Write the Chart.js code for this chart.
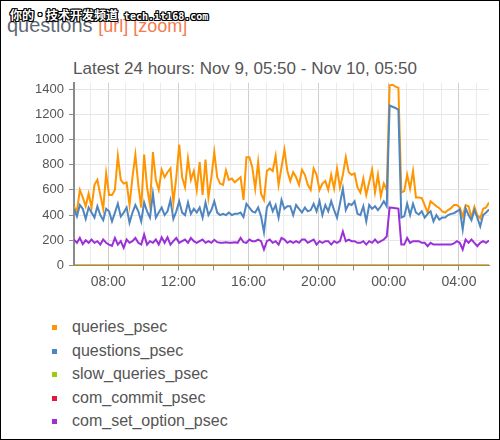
<!DOCTYPE html>
<html><head><meta charset="utf-8">
<script src="https://cdn.jsdelivr.net/npm/chart.js@4/dist/chart.umd.min.js"></script>
<style>
html,body{margin:0;padding:0;background:#fff;}
#frame{position:relative;width:500px;height:440px;overflow:hidden;font-family:"Liberation Sans",Arial,Helvetica,sans-serif;background:#fff;}
#border{position:absolute;left:0;top:0;width:500px;height:440px;box-sizing:border-box;border:1px solid #000;pointer-events:none;z-index:5;}
#wm{position:absolute;left:10px;top:6px;z-index:4;color:#fff;font-weight:bold;white-space:nowrap;
 text-shadow:1px 0 #000,-1px 0 #000,0 1px #000,0 -1px #000,1px 1px #000,-1px -1px #000,1px -1px #000,-1px 1px #000;}
#wm .cn{font-family:"Noto Sans CJK SC";font-size:12px;}
#wm .en{font-family:"DejaVu Sans Mono";font-size:10px;margin-left:6px;}
#title{position:absolute;left:7px;top:15px;line-height:20px;font-size:20px;color:#5f6873;white-space:nowrap;z-index:2;}
#title .links{font-size:18px;color:#f47c50;}
#sub{position:absolute;left:73px;top:60px;font-size:17px;line-height:17px;color:#555;white-space:nowrap;}
#cwrap{position:absolute;left:0;top:70px;width:500px;height:226px;}
#legend{position:absolute;left:52px;top:317px;margin:0;padding:0;list-style:none;}
#legend li{height:23.6px;line-height:20px;font-size:16px;color:#555;white-space:nowrap;position:relative;padding-left:20px;}
#legend li span.sq{position:absolute;left:0;top:8px;width:5px;height:5px;}
</style>
</head><body>
<div id="frame">
  <div id="wm"><span class="cn">你的·技术开发频道</span><span class="en">tech.it168.com</span></div>
  <div id="title">questions <span class="links">[url] [zoom]</span></div>
  <div id="sub">Latest 24 hours: Nov 9, 05:50 - Nov 10, 05:50</div>
  <div id="cwrap"><canvas id="c"></canvas></div>
  <ul id="legend"></ul>
  <div id="border"></div>
</div>
<script>
// time axis: first sample hour (decimal hours, Nov 9) and sampling step (10 minutes)
const startHour = 6.05;
const stepHours = 1/6;

const seriesNames = ["queries_psec","questions_psec","slow_queries_psec","com_commit_psec","com_set_option_psec"];
const seriesColors = ["#ff9500","#4f86c0","#99cc11","#e8173a","#9b30d9"];

const queries = [467,430,600,540,470,570,460,640,680,560,450,730,
 560,560,600,870,680,650,660,480,700,880,640,460,
 880,620,480,900,680,600,760,700,740,770,500,700,
 960,700,620,850,680,750,600,820,560,840,540,700,
 900,700,650,640,755,680,690,660,680,700,520,860,
 860,780,610,820,570,520,750,770,750,870,640,780,
 920,750,670,740,700,640,760,720,640,600,770,720,
 600,650,670,600,720,610,770,620,720,860,740,720,
 730,620,580,690,560,660,760,580,720,550,650,600,
 1430,1435,1420,1410,580,590,720,610,750,540,540,535,
 480,420,510,490,470,455,430,420,440,455,480,480,
 460,390,480,470,380,465,400,375,450,460,500];

const questions = [450,390,480,450,370,460,420,380,470,400,360,450,
 430,350,420,490,390,420,460,340,420,480,430,350,
 500,430,380,570,380,420,460,400,430,520,370,430,
 510,420,400,500,410,450,420,460,380,500,400,440,
 510,420,400,410,400,420,400,410,410,420,385,490,
 460,430,420,460,390,265,460,500,430,480,380,520,
 450,470,470,400,480,450,420,460,430,440,490,430,
 510,400,480,430,510,440,380,490,610,440,490,480,
 510,410,400,470,350,480,450,470,440,470,510,470,
 1270,1260,1250,1235,380,390,490,400,490,420,405,430,
 380,410,430,350,400,365,380,380,400,410,415,430,
 445,285,455,400,360,440,380,310,400,420,445];

const slowQueries = [0,0,0,0,0,0,0,0,0,0,0,0,0,0,0,0,0,0,0,0,0,0,0,0,
 0,0,0,0,0,0,0,0,0,0,0,0,0,0,0,0,0,0,0,0,0,0,0,0,
 0,0,0,0,0,0,0,0,0,0,0,0,0,0,0,0,0,0,0,0,0,0,0,0,
 0,0,0,0,0,0,0,0,0,0,0,0,0,0,0,0,0,0,0,0,0,0,0,0,
 0,0,0,0,0,0,0,0,0,0,0,0,0,0,0,0,0,0,0,0,0,0,0,0,
 0,0,0,0,0,0,0,0,0,0,0,0,0,0,0,0,0,0,0,0,0,0,0];

const comCommit = [0,0,0,0,0,0,0,0,0,0,0,0,0,0,0,0,0,0,0,0,0,0,0,0,
 0,0,0,0,0,0,0,0,0,0,0,0,0,0,0,0,0,0,0,0,0,0,0,0,
 0,0,0,0,0,0,0,0,0,0,0,0,0,0,0,0,0,0,0,0,0,0,0,0,
 0,0,0,0,0,0,0,0,0,0,0,0,0,0,0,0,0,0,0,0,0,0,0,0,
 0,0,0,0,0,0,0,0,0,0,0,0,0,0,0,0,0,0,0,0,0,0,0,0,
 0,0,0,0,0,0,0,0,0,0,0,0,0,0,0,0,0,0,0,0,0,0,0];

const comSetOption = [206,180,219,170,200,180,206,180,193,166,206,180,
 166,155,219,166,193,140,206,180,193,219,180,166,
 245,166,193,180,206,166,224,180,224,166,193,219,
 180,193,206,180,219,193,180,193,206,180,193,180,
 204,185,180,180,185,180,180,185,180,220,185,180,
 206,193,193,206,193,127,193,206,180,193,166,219,
 206,180,193,180,193,180,206,206,180,193,206,166,
 193,180,193,193,166,193,180,193,270,193,206,193,
 193,180,180,193,166,193,180,206,180,193,206,230,
 460,458,455,452,166,166,219,180,193,193,193,180,
 180,153,180,166,166,166,166,166,166,166,175,193,
 180,127,206,180,206,180,153,180,193,180,198];

const yTicks = [0,200,400,600,800,1000,1200,1400];
const xLabelHours = [8,12,16,20,24,28];

const times = queries.map((_, i) => startHour + i * stepHours);
const allSeries = [queries, questions, slowQueries, comCommit, comSetOption];

const datasets = allSeries.map((arr, k) => ({
  label: seriesNames[k],
  data: arr.map((v, i) => ({x: times[i], y: v})),
  borderColor: k === 3 ? 'rgba(226,60,50,0.6)' : seriesColors[k],
  backgroundColor: seriesColors[k],
  borderWidth: 2,
  pointRadius: 0,
  tension: 0,
  fill: false,
  order: allSeries.length - k
}));

const fontFam = '"Liberation Sans", Arial, Helvetica, sans-serif';

new Chart(document.getElementById('c'), {
  type: 'line',
  data: {datasets},
  options: {
    responsive: true,
    maintainAspectRatio: false,
    animation: false,
    layout: {padding: {left: 0, right: 11, top: 12, bottom: 0}},
    plugins: {legend: {display: false}, tooltip: {enabled: false}},
    scales: {
      x: {
        type: 'linear',
        min: times[0],
        max: times[times.length - 1],
        afterBuildTicks: (s) => {
          const t = [];
          for (let h = Math.ceil(times[0]); h <= times[times.length-1]; h++) t.push({value: h});
          s.ticks = t;
        },
        afterFit: (s) => { s.height = 30.5; },
        grid: {
          color: (ctx) => (ctx.tick && xLabelHours.includes(ctx.tick.value)) ? '#cfcfcf' : '#ebebeb',
          tickColor: (ctx) => (ctx.tick && ctx.tick.value % 2 === 0) ? '#8a8a8a' : 'rgba(0,0,0,0)',
          tickLength: 5,
          lineWidth: 1
        },
        border: {color: '#8a8a8a', width: 1},
        ticks: {
          autoSkip: false,
          maxRotation: 0,
          padding: 3,
          color: '#555',
          font: {family: fontFam, size: 14},
          callback: (v) => xLabelHours.includes(v) ? String(v % 24).padStart(2, '0') + ':00' : ''
        }
      },
      y: {
        type: 'linear',
        min: 0,
        max: 1450,
        afterBuildTicks: (s) => { s.ticks = yTicks.map(v => ({value: v})); },
        afterFit: (s) => { s.width = 74; },
        grid: {color: '#e6e6e6', tickColor: '#8a8a8a', tickLength: 5, lineWidth: 1},
        border: {color: '#8a8a8a', width: 2},
        ticks: {
          padding: 5,
          color: '#555',
          font: {family: fontFam, size: 13},
          callback: (v) => String(v)
        }
      }
    }
  }
});

const legend = document.getElementById('legend');
seriesNames.forEach((n, k) => {
  const li = document.createElement('li');
  const sq = document.createElement('span');
  sq.className = 'sq';
  sq.style.background = seriesColors[k];
  li.appendChild(sq);
  li.appendChild(document.createTextNode(n));
  legend.appendChild(li);
});
</script>
</body></html>
